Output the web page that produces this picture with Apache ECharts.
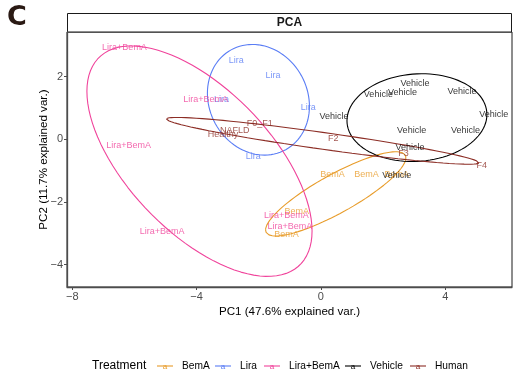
<!DOCTYPE html>
<html>
<head>
<meta charset="utf-8">
<script src="https://cdn.jsdelivr.net/npm/echarts@6/dist/echarts.min.js"></script>
<style>
  html, body { margin: 0; padding: 0; background: #fff; }
  #chart { width: 514px; height: 381px; }
</style>
</head>
<body>
<div id="chart"></div>
<script>
// PCA scores (PC1, PC2) per sample, grouped by treatment
const groups = ['BemA', 'Lira', 'Lira+BemA', 'Vehicle', 'Human'];
const groupColors = ['#E89C2A', '#5A7DF5', '#F0439B', '#000000', '#8C2D25'];

const bemaPC1 = [0.37, 1.47, 2.44, -0.78, -1.11];
const bemaPC2 = [-1.12, -1.12, -1.12, -2.32, -3.04];

const liraPC1 = [-2.72, -1.54, -3.20, -0.41, -2.18];
const liraPC2 = [2.52, 2.04, 1.27, 1.03, -0.54];

const liraBemaPC1 = [-6.32, -3.71, -6.19, -5.11, -1.11, -1.00];
const liraBemaPC2 = [2.92, 1.27, -0.19, -2.96, -2.43, -2.80];

const vehiclePC1 = [3.03, 1.85, 2.63, 4.54, 5.56, 0.42, 2.92, 4.65, 2.87, 2.44];
const vehiclePC2 = [1.78, 1.43, 1.50, 1.53, 0.80, 0.73, 0.29, 0.29, -0.25, -1.17];

const humanNames = ['NAFLD', 'Healthy', 'F0_F1', 'F2', 'F3', 'F4'];
const humanPC1 = [-2.77, -3.15, -1.97, 0.40, 2.66, 5.18];
const humanPC2 = [0.29, 0.15, 0.50, 0.04, -0.44, -0.83];

const xTicks = [-8, -4, 0, 4];
const yTicks = [-4, -2, 0, 2];

const groupData = [
  { pc1: bemaPC1, pc2: bemaPC2 },
  { pc1: liraPC1, pc2: liraPC2 },
  { pc1: liraBemaPC1, pc2: liraBemaPC2 },
  { pc1: vehiclePC1, pc2: vehiclePC2 },
  { pc1: humanPC1, pc2: humanPC2, names: humanNames }
];

// Normal-data ellipse (68% probability) from the group's mean and covariance
function dataEllipse(xs, ys, prob) {
  const n = xs.length;
  const mx = xs.reduce((a, b) => a + b, 0) / n;
  const my = ys.reduce((a, b) => a + b, 0) / n;
  let sxx = 0, syy = 0, sxy = 0;
  for (let i = 0; i < n; i++) {
    sxx += (xs[i] - mx) * (xs[i] - mx);
    syy += (ys[i] - my) * (ys[i] - my);
    sxy += (xs[i] - mx) * (ys[i] - my);
  }
  sxx /= (n - 1); syy /= (n - 1); sxy /= (n - 1);
  const a = Math.sqrt(sxx);
  const b = sxy / a;
  const c = Math.sqrt(Math.max(syy - b * b, 0));
  const ed = Math.sqrt(-2 * Math.log(1 - prob));
  const pts = [];
  const steps = 100;
  for (let k = 0; k <= steps; k++) {
    const t = -Math.PI + 2 * Math.PI * k / steps;
    const cx = Math.cos(t), sy = Math.sin(t);
    pts.push([mx + ed * a * cx, my + ed * (b * cx + c * sy)]);
  }
  return pts;
}

const labelFont = 'Liberation Sans, Arial, Helvetica, sans-serif';
const series = [];
groups.forEach((g, gi) => {
  const d = groupData[gi];
  series.push({
    name: g,
    type: 'line',
    data: dataEllipse(d.pc1, d.pc2, 0.68),
    showSymbol: false,
    smooth: false,
    lineStyle: { color: groupColors[gi], width: 1.1 },
    itemStyle: { color: groupColors[gi] },
    z: 3,
    silent: true
  });
  series.push({
    name: g,
    type: 'scatter',
    data: d.pc1.map((x, i) => ({ value: [x, d.pc2[i]], name: d.names ? d.names[i] : g })),
    symbol: 'circle',
    symbolSize: 1,
    itemStyle: { color: 'rgba(0,0,0,0)' },
    label: {
      show: true,
      position: [0.5, 0.5],
      align: 'center',
      verticalAlign: 'middle',
      formatter: p => p.name,
      color: groupColors[gi],
      textBorderWidth: 0,
      fontFamily: labelFont,
      fontSize: 9
    },
    z: 4
  });
});

// Legend drawn beneath the panel: key line with "a" glyph, then group name
const legendKeyX = [157, 215, 264, 345, 410];
const legendY = 366;
const graphics = [
  { type: 'text', left: 7, top: 4, style: { text: 'C', font: 'bold 27px "DejaVu Sans", sans-serif', fill: '#2A1A14' } },
  { type: 'rect', shape: { x: 67.5, y: 13.5, width: 444, height: 18.5 }, style: { fill: '#FFFFFF', stroke: '#1A1A1A', lineWidth: 1 } },
  { type: 'text', x: 289.5, y: 23, style: { text: 'PCA', font: 'bold 12px ' + labelFont, fill: '#1A1A1A', textAlign: 'center', textVerticalAlign: 'middle' } },
  { type: 'text', x: 92, y: legendY, style: { text: 'Treatment', font: '12px ' + labelFont, fill: '#000', textAlign: 'left', textVerticalAlign: 'middle' } }
];
groups.forEach((g, gi) => {
  const kx = legendKeyX[gi];
  graphics.push({ type: 'line', shape: { x1: kx, y1: legendY, x2: kx + 16, y2: legendY }, style: { stroke: groupColors[gi], lineWidth: 1.1 } });
  graphics.push({ type: 'text', x: kx + 8, y: legendY + 0.5, style: { text: 'a', font: '8px ' + labelFont, fill: groupColors[gi], textAlign: 'center', textVerticalAlign: 'middle' } });
  graphics.push({ type: 'text', x: kx + 25, y: legendY, style: { text: g, font: '10.2px ' + labelFont, fill: '#000', textAlign: 'left', textVerticalAlign: 'middle' } });
});

const chart = echarts.init(document.getElementById('chart'), null, { renderer: 'canvas' });
chart.setOption({
  animation: false,
  backgroundColor: '#FFFFFF',
  grid: {
    left: 67, right: 2, top: 32, bottom: 94,
    show: true, borderColor: '#1A1A1A', borderWidth: 1, backgroundColor: '#FFFFFF'
  },
  xAxis: {
    type: 'value',
    min: -8.17, max: 6.15,
    name: 'PC1 (47.6% explained var.)',
    nameLocation: 'middle',
    nameGap: 19,
    nameMoveOverlap: false,
    nameTextStyle: { fontFamily: labelFont, fontSize: 11.6, color: '#000' },
    axisLine: { show: true, onZero: false, lineStyle: { color: '#4D4D4D', width: 1.3 } },
    axisTick: { show: true, length: 3, customValues: xTicks, lineStyle: { color: '#4D4D4D' } },
    axisLabel: {
      customValues: xTicks,
      formatter: v => (v < 0 ? '\u2212' + Math.abs(v) : String(v)),
      fontFamily: labelFont, fontSize: 11, color: '#4D4D4D', margin: 4
    },
    splitLine: { show: false }
  },
  yAxis: {
    type: 'value',
    min: -4.72, max: 3.43,
    name: 'PC2 (11.7% explained var.)',
    nameLocation: 'middle',
    nameGap: 17,
    nameMoveOverlap: false,
    nameTextStyle: { fontFamily: labelFont, fontSize: 11.6, color: '#000' },
    axisLine: { show: true, onZero: false, lineStyle: { color: '#4D4D4D', width: 1.3 } },
    axisTick: { show: true, length: 3, customValues: yTicks, lineStyle: { color: '#4D4D4D' } },
    axisLabel: {
      customValues: yTicks,
      formatter: v => (v < 0 ? '\u2212' + Math.abs(v) : String(v)),
      fontFamily: labelFont, fontSize: 11, color: '#4D4D4D', margin: 4
    },
    splitLine: { show: false }
  },
  graphic: graphics,
  series: series
});
</script>
</body>
</html>
